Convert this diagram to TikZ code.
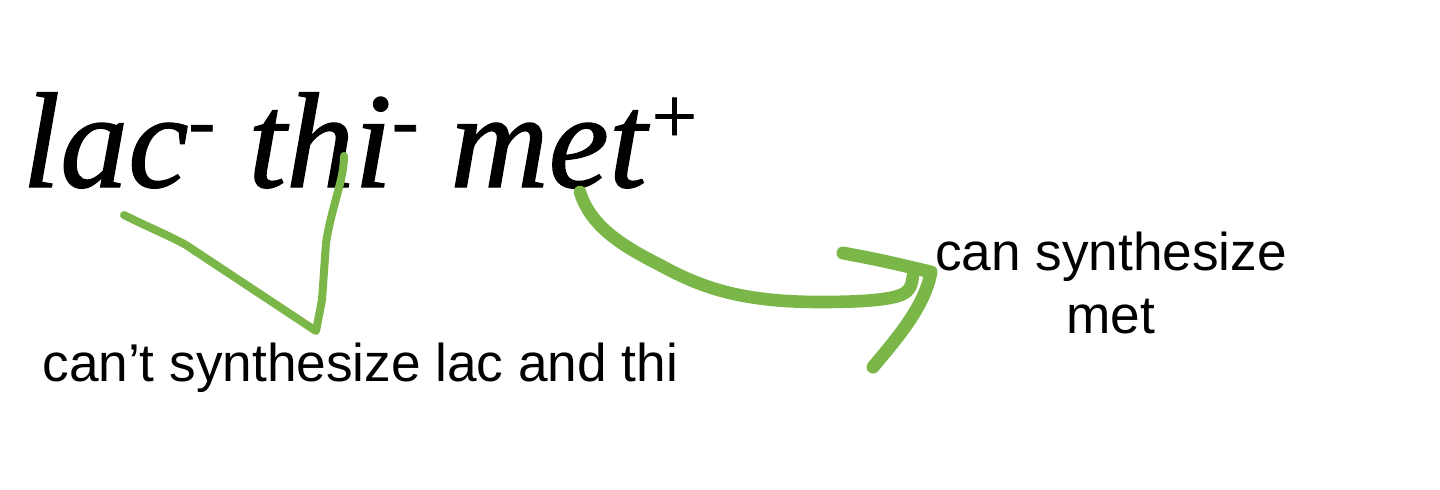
\documentclass[tikz,border=0pt]{standalone}
\usepackage{fontspec}
\setmainfont{Liberation Serif}
\newfontfamily\bigit[ItalicFeatures={FakeBold=1}]{Liberation Serif}
\newfontfamily\sansf{Liberation Sans}
\definecolor{pen}{RGB}{122,183,72}
\newcommand\supm[1]{\raisebox{20pt}{\fontsize{40}{40}\selectfont #1}}
\newcommand\supp[1]{\raisebox{22pt}{\fontsize{40}{40}\selectfont #1}}
\begin{document}
\begin{tikzpicture}[x=0.5pt,y=-0.5pt,
  big/.style={inner sep=0pt, anchor=base west, font=\bigit\fontsize{68}{68}\selectfont\itshape},
  lbl/.style={inner sep=0pt, font=\sansf\fontsize{26.6}{31.5}\selectfont},
  stroke/.style={draw=pen, line cap=round, line join=round}]
\useasboundingbox (0,0) rectangle (1440,489);
\fill[white] (0,0) rectangle (1440,489);
% words
\node[big] (lac) at (22,187) {lac\supm{-}};
\node[big] (thi) at (248,187) {thi\supm{-}};
\node[big] (met) at (450,187) {met\supp{+}};
\node[lbl, anchor=base west] (cant) at (42,381) {can’t synthesize lac and thi};
\node[lbl, anchor=base, align=center] (can) at (1111,333) {can synthesize\\met};
% hand strokes
\coordinate (vA) at (124,215);
\coordinate (vB) at (316,331);
\coordinate (vC) at (344,156);
\draw[stroke, line width=4pt] (vA) .. controls (150,228) and (170,236) .. (186,245)
  -- (vB) -- (322,300) -- (326,243) .. controls (332,205) and (344,180) .. (vC);
\coordinate (aS) at (580,192);
\coordinate (aT) at (913,275);
\draw[stroke, line width=6.3pt] (aS) .. controls (590,225) and (620,245) .. (660,265)
  .. controls (700,287) and (740,302) .. (820,302)
  .. controls (860,302) and (885,300) .. (898,296) .. controls (912,292) and (912,282) .. (aT);
\coordinate (bU) at (843,253);
\coordinate (bT) at (931,272);
\coordinate (bL) at (873,367);
\draw[stroke, line width=6.5pt] (bU) .. controls (880,260) .. (bT)
  .. controls (925,305) and (900,335) .. (bL);
\end{tikzpicture}
\end{document}
